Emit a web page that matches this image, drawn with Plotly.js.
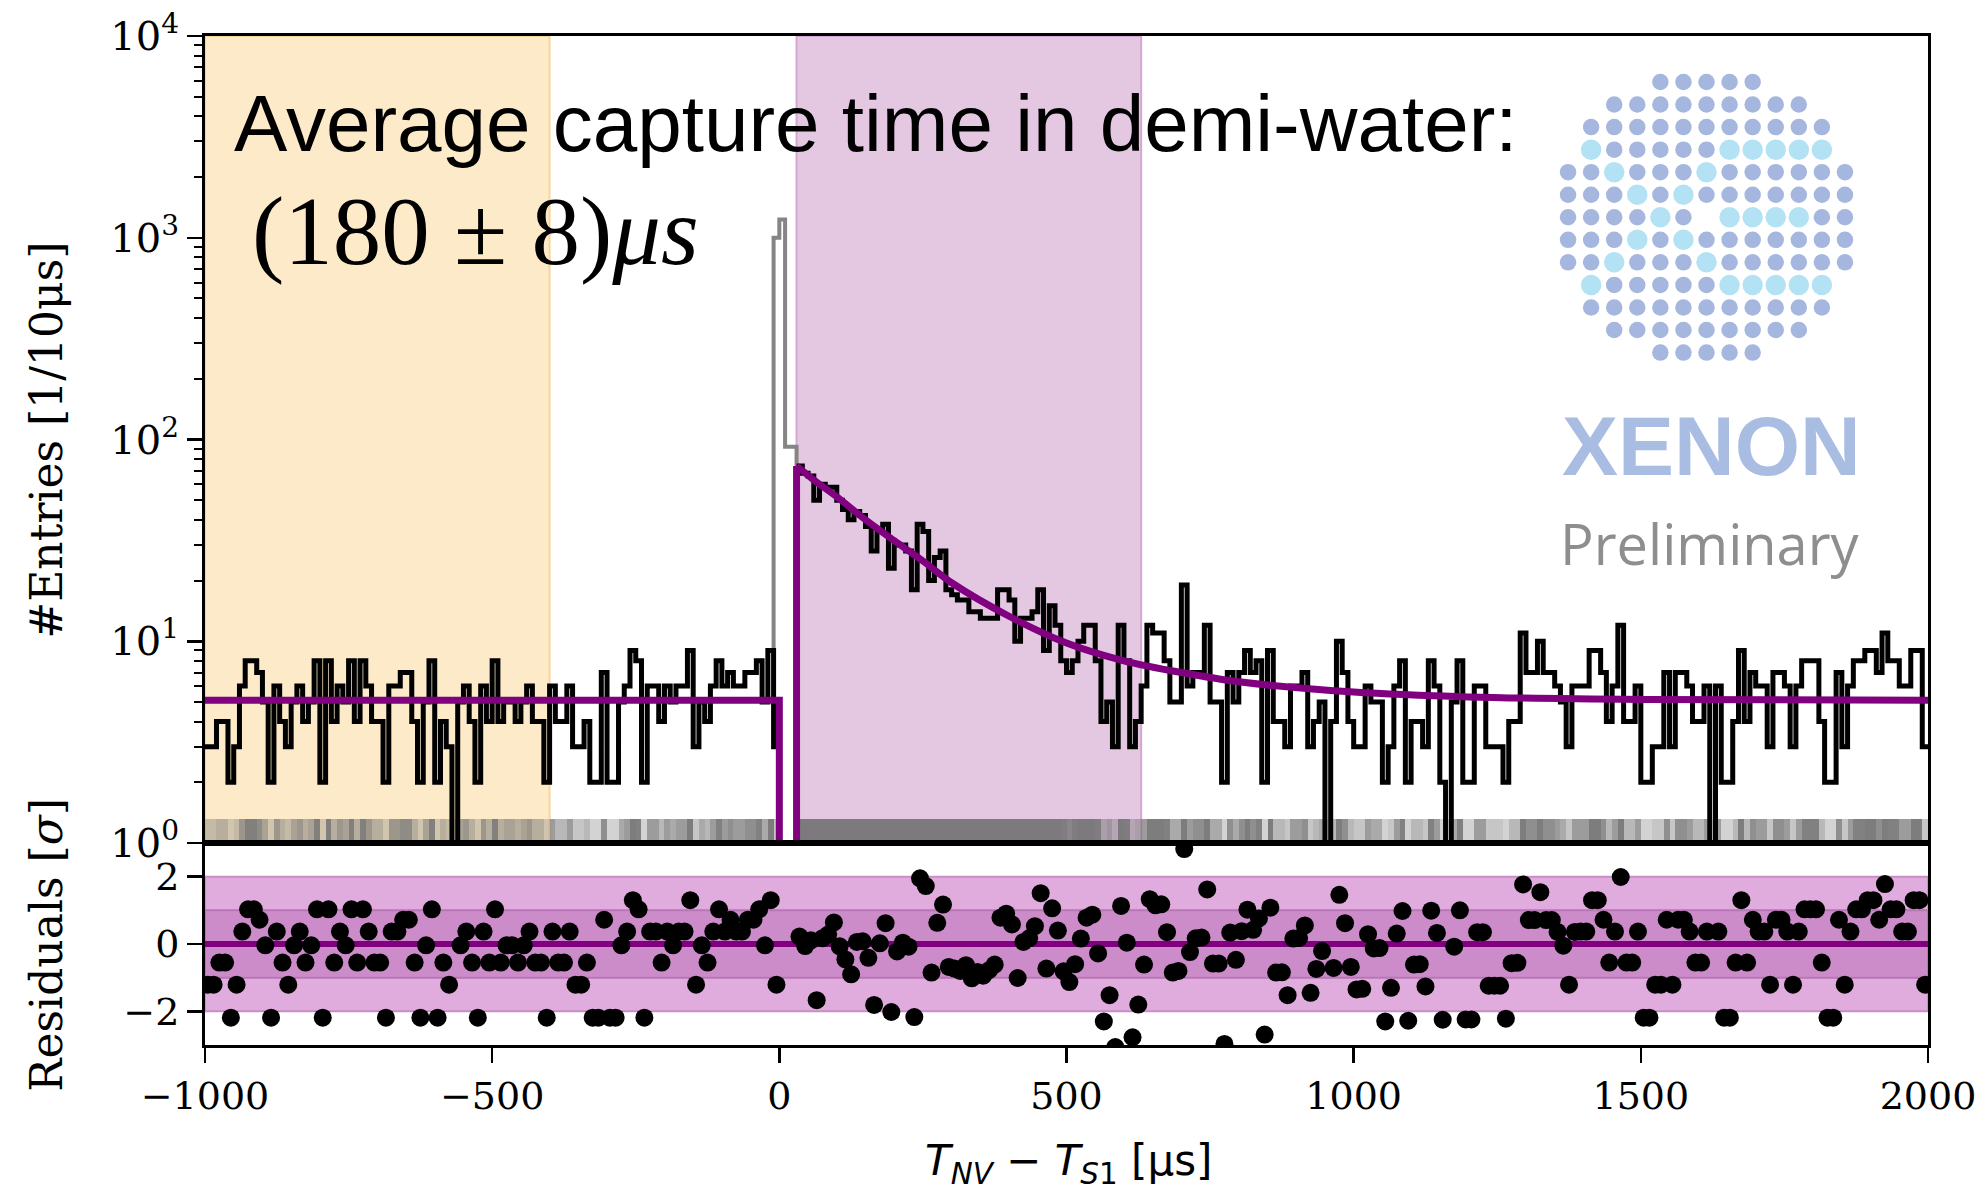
<!DOCTYPE html>
<html><head><meta charset="utf-8">
<script src="https://cdn.plot.ly/plotly-3.0.1.min.js"></script>
<style>html,body{margin:0;padding:0;background:#fff}#chart{width:1988px;height:1194px}</style>
</head><body><div id="chart"></div>
<script>
// ---------------- data ----------------
const binWidth = 10;                       // µs per bin
const leftStart = -1000;                   // first bin of the pre-trigger part
const leftCounts = [
 3,3,4,4,2,3,6,8,8,7, 5,2,6,4,3,5,6,4,5,8, 2,8,4,6,5,8,4,8,6,4, 4,2,6,6,7,7,4,2,5,8,
 2,4,3,1,5,6,4,2,6,4, 8,4,5,5,4,5,6,4,4,2, 6,4,4,6,3,3,4,2,2,7, 2,2,5,6,9,8,2,6,6,4,
 6,5,6,6,9,3,5,4,6,8, 6,7,6,6,7,7,8,5,9,3];
const rightStart = 30;                     // first bin after the excluded window
const rightCounts = [
 74,68,66,50,60,58,58,50,45,40,44,42,37,28,36,
 38,23,30,30,28,18,38,35,20,26, 28,18,17,16,16,14,14,13,13,13,
 18,18,16,10,13,13,14,18,9,15, 12,8,7,8,10,12,12,8,4,5,
 3,12,8,3,4,6,12,11,11,8, 5,5,19,6,7,7,12,5,5,2,
 7,5,7,9,7,8,2,9,4,4, 3,6,6,7,3,4,5,1,4,10,
 7,4,3,3,6,5,5,2,3,6, 8,2,4,4,3,8,6,2,1,5,
 8,2,2,6,6,3,3,3,2,4, 4,11,7,7,10,7,7,6,5,3,6,
 6,6,9,9,7,4,6,12,4,4, 6,2,2,3,3,7,3,7,7,6,
 4,4,6,1,6,2,2,4,9,4, 7,6,6,3,7,7,6,3,6,8,
 8,8,4,2,2,7,3,6,8,8, 9,9,7,11,8,8,6,6,9,9,3];
const excludedStart = -20;                 // full-data histogram around the prompt peak (grey)
const excludedCounts = [9,1000,1230,92,92,74];

const fitBackground = 5.1;                 // flat part of the fit
const fitCutLow = 0, fitCutHigh = 30;      // fit switched off in [0,30] µs
const fitCurveX = [30,60,100,150,200,250,300,400,500,600,700,800,1000,1200,1500,2000];
const fitCurveY = [74,63,52,40,31.5,25,19.5,13.3,9.8,8.0,7.0,6.3,5.6,5.3,5.15,5.1];

const residLeft = [
 -1.21,-1.21,-0.55,-0.55,-2.19,-1.21,0.37,1.03,1.03,0.72,
 -0.04,-2.19,0.37,-0.55,-1.21,-0.04,0.37,-0.55,-0.04,1.03,
 -2.19,1.03,-0.55,0.37,-0.04,1.03,-0.55,1.03,0.37,-0.55,
 -0.55,-2.19,0.37,0.37,0.72,0.72,-0.55,-2.19,-0.04,1.03,
 -2.19,-0.55,-1.21,-4.1,-0.04,0.37,-0.55,-2.19,0.37,-0.55,
 1.03,-0.55,-0.04,-0.04,-0.55,-0.04,0.37,-0.55,-0.55,-2.19,
 0.37,-0.55,-0.55,0.37,-1.21,-1.21,-0.55,-2.19,-2.19,0.72,
 -2.19,-2.19,-0.04,0.37,1.3,1.03,-2.19,0.37,0.37,-0.55,
 0.37,-0.04,0.37,0.37,1.3,-1.21,-0.04,-0.55,0.37,1.03,
 0.37,0.72,0.37,0.37,0.72,0.72,1.03,-0.04,1.3,-1.21];
const residRight = [
 0.22,-0.06,0.11,-1.67,0.17,0.28,0.64,-0.07,-0.46,-0.9,0.06,0.08,-0.41,-1.81,0.02,
 0.62,-2.02,-0.22,0.04,-0.08,-2.17,1.95,1.72,-0.85,0.63,
 1.17,-0.68,-0.73,-0.8,-0.63,-1.02,-0.83,-0.94,-0.78,-0.61,
 0.78,0.9,0.58,-1.01,0.06,0.17,0.53,1.51,-0.73,1.06,
 0.4,-0.81,-1.13,-0.6,0.16,0.78,0.87,-0.28,-2.3,-1.52,
 -3.06,1.13,0.04,-2.77,-1.8,-0.61,1.33,1.15,1.18,0.35,
 -0.85,-0.8,2.82,-0.24,0.17,0.19,1.62,-0.58,-0.58,-2.97,
 0.34,-0.47,0.38,1.02,0.42,0.76,-2.69,1.08,-0.85,-0.84,
 -1.52,0.16,0.18,0.55,-1.45,-0.74,-0.21,-4.4,-0.71,1.46,
 0.62,-0.68,-1.35,-1.33,0.29,-0.13,-0.12,-2.3,-1.3,0.31,
 0.98,-2.28,-0.61,-0.6,-1.26,0.99,0.33,-2.25,-4.2,-0.08,
 1.0,-2.24,-2.24,0.35,0.35,-1.24,-1.24,-1.24,-2.22,-0.57,
 -0.56,1.77,0.71,0.71,1.54,0.71,0.71,0.36,-0.05,-1.21,0.36,
 0.37,0.37,1.3,1.3,0.72,-0.55,0.37,1.99,-0.55,-0.55,
 0.37,-2.19,-2.19,-1.21,-1.21,0.72,-1.21,0.72,0.72,0.37,
 -0.55,-0.55,0.37,-4.1,0.37,-2.19,-2.19,-0.55,1.3,-0.55,
 0.72,0.37,0.37,-1.21,0.72,0.72,0.37,-1.21,0.37,1.03,
 1.03,1.03,-0.55,-2.19,-2.19,0.72,-1.21,0.37,1.03,1.03,
 1.3,1.3,0.72,1.78,1.03,1.03,0.37,0.37,1.3,1.3,-1.21];

const sideband = [-1000, -400];
const signalWindow = [30, 630];
const sigmaBands = [2, 1];
const xTicks = [-1000,-500,0,500,1000,1500,2000];
const xTickText = ['−1000','−500','0','500','1000','1500','2000'];
const yTicks = [1,10,100,1000,10000];
const yTickText = ['10<sup>0</sup>','10<sup>1</sup>','10<sup>2</sup>','10<sup>3</sup>','10<sup>4</sup>'];
const residTicks = [-2,0,2];
const residTickText = ['−2','0','2'];
const rugTop = 1.32;   // top of the event strip on the log axis

// XENON logo pattern: o = dark dot, L = light dot, space = none
const logoRows = [
 '    ooooo    ',
 '  ooooooooo  ',
 ' ooooooooooo ',
 ' LoooooLLLLL ',
 'ooLoooLoooooo',
 'oooLoLooooooo',
 'ooooLo LLLLoo',
 'oooLoLooooooo',
 'ooLoooLoooooo',
 ' LoooooLLLLL ',
 ' ooooooooooo ',
 '  ooooooooo  ',
 '    ooooo    '];

// ---------------- build traces ----------------
function stepXY(start, counts){
  const x=[], y=[];
  counts.forEach((c,i)=>{ x.push(start+i*binWidth); y.push(c); });
  x.push(start+counts.length*binWidth); y.push(counts[counts.length-1]);
  return {x,y};
}
function centers(start, n){ const a=[]; for(let i=0;i<n;i++) a.push(start+(i+0.5)*binWidth); return a; }

const L = stepXY(leftStart, leftCounts);
const R = stepXY(rightStart, rightCounts);
const G = stepXY(excludedStart, excludedCounts);

const rugX = centers(leftStart, leftCounts.length).concat(centers(rightStart, rightCounts.length));
const rugC = leftCounts.concat(rightCounts);
const rugColors = rugC.map(c => 'rgba(118,118,118,' + Math.min(0.95, 0.12 + 0.1*c).toFixed(2) + ')');

const traces = [];
traces.push({type:'bar', x:rugX, y:rugX.map(()=>rugTop-1), base:1, width:binWidth,
  marker:{color:rugColors, line:{width:0}}, xaxis:'x', yaxis:'y', hoverinfo:'skip'});
traces.push({type:'scatter', mode:'lines', x:G.x, y:G.y, line:{shape:'hv', color:'#858585', width:4}, xaxis:'x', yaxis:'y'});
traces.push({type:'scatter', mode:'lines', x:L.x, y:L.y, line:{shape:'hv', color:'#000', width:5}, xaxis:'x', yaxis:'y'});
traces.push({type:'scatter', mode:'lines', x:R.x, y:R.y, line:{shape:'hv', color:'#000', width:5}, xaxis:'x', yaxis:'y'});
// fit: flat part with cut, then rise and exponential decay
traces.push({type:'scatter', mode:'lines',
  x:[leftStart, fitCutLow, fitCutLow, null, fitCutHigh, fitCutHigh],
  y:[fitBackground, fitBackground, 0.3, null, 0.3, fitCurveY[0]],
  line:{color:'#800080', width:7}, xaxis:'x', yaxis:'y'});
traces.push({type:'scatter', mode:'lines', x:fitCurveX, y:fitCurveY,
  line:{color:'#800080', width:7, shape:'spline', smoothing:0.8}, xaxis:'x', yaxis:'y'});
// residuals
traces.push({type:'scatter', mode:'markers',
  x:centers(leftStart, residLeft.length).concat(centers(rightStart, residRight.length)),
  y:residLeft.concat(residRight),
  marker:{color:'#000', size:18}, xaxis:'x2', yaxis:'y2'});
// logo dots
const ldx=[], ldy=[], llx=[], lly=[];
logoRows.forEach((row,r)=>{ for(let c=0;c<row.length;c++){
  if(row[c]==='o'){ ldx.push(c); ldy.push(r+1); }
  else if(row[c]==='L'){ llx.push(c); lly.push(r+1); } } });
traces.push({type:'scatter', mode:'markers', x:ldx, y:ldy, marker:{color:'#a5b7de', size:16.5}, xaxis:'x3', yaxis:'y3'});
traces.push({type:'scatter', mode:'markers', x:llx, y:lly, marker:{color:'#b4e2f5', size:20.5}, xaxis:'x3', yaxis:'y3'});

// minor tick positions for the log axis
const minorVals=[]; for(let d=1; d<10000; d*=10){ for(let m=2;m<=9;m++) minorVals.push(m*d); }

const serif = 'DejaVu Serif';
const axisCommon = {showline:true, mirror:true, linecolor:'#000', linewidth:3, showgrid:false, zeroline:false};

const shapes = [
  {type:'rect', xref:'x', yref:'y domain', x0:sideband[0], x1:sideband[1], y0:0, y1:1,
   fillcolor:'#fdeac8', line:{color:'#f8d59e', width:2}, layer:'below'},
  {type:'rect', xref:'x', yref:'y domain', x0:signalWindow[0], x1:signalWindow[1], y0:0, y1:1,
   fillcolor:'#e4c8e2', line:{color:'#d6a6d3', width:2}, layer:'below'},
  {type:'rect', xref:'x2 domain', yref:'y2', x0:0, x1:1, y0:-sigmaBands[0], y1:sigmaBands[0],
   fillcolor:'#e0acdd', line:{color:'#c98ec6', width:2}, layer:'below'},
  {type:'rect', xref:'x2 domain', yref:'y2', x0:0, x1:1, y0:-sigmaBands[1], y1:sigmaBands[1],
   fillcolor:'#cc8cc9', line:{color:'#b976b6', width:2}, layer:'below'},
  {type:'line', xref:'x2 domain', yref:'y2', x0:0, x1:1, y0:0, y1:0,
   line:{color:'#800080', width:6}, layer:'below'}
];

const annotations = [
  {text:'Average capture time in demi-water:', xref:'paper', yref:'paper', x:0.0157, y:0.9128,
   xanchor:'left', yanchor:'middle', showarrow:false, font:{family:'Liberation Sans', size:80, color:'#000'}},
  {text:'(180 ± 8)<i>μs</i>', xref:'paper', yref:'paper', x:0.0262, y:0.8067,
   xanchor:'left', yanchor:'middle', showarrow:false, font:{family:'Liberation Serif', size:97, color:'#000'}},
  {text:'<b>XENON</b>', xref:'paper', yref:'paper', x:0.8745, y:0.5937, xanchor:'center', yanchor:'middle',
   showarrow:false, font:{family:'Liberation Sans', size:84, color:'#a9bde3'}},
  {text:'Preliminary', xref:'paper', yref:'paper', x:0.8735, y:0.4975, xanchor:'center', yanchor:'middle',
   showarrow:false, font:{family:'Open Sans', size:56, color:'#8e8e8e'}},
  {text:'#Entries [1/10μs]', xref:'paper', yref:'paper', x:-0.0925, y:0.5996, xanchor:'center', yanchor:'middle',
   textangle:-90, showarrow:false, font:{family:serif, size:44, color:'#000'}},
  {text:'Residuals [<i>σ</i>]', xref:'paper', yref:'paper', x:-0.0925, y:0.0991, xanchor:'center', yanchor:'middle',
   textangle:-90, showarrow:false, font:{family:serif, size:44, color:'#000'}},
  {text:'<i>T</i><sub><i>NV</i></sub> − <i>T</i><sub><i>S</i>1</sub> [μs]', xref:'paper', yref:'paper',
   x:0.5014, y:-0.117, xanchor:'center', yanchor:'middle', showarrow:false,
   font:{family:'DejaVu Sans', size:42, color:'#000'}}
];

const layout = {
  width:1988, height:1194,
  margin:{l:205, r:60, t:36, b:149},
  paper_bgcolor:'#ffffff', plot_bgcolor:'rgba(0,0,0,0)',
  showlegend:false, bargap:0,
  xaxis:Object.assign({}, axisCommon, {domain:[0,1], range:[-1000,2000], anchor:'y', showticklabels:false, ticks:''}),
  yaxis:Object.assign({}, axisCommon, {domain:[0.2002,1], type:'log', range:[0,4], anchor:'x',
     tickvals:yTicks, ticktext:yTickText, ticks:'outside', ticklen:15, tickwidth:2.5, tickcolor:'#000',
     tickfont:{family:serif, size:40, color:'#000'},
     minor:{tickvals:minorVals, ticks:'outside', ticklen:8, tickwidth:2, tickcolor:'#000', showgrid:false}}),
  xaxis2:Object.assign({}, axisCommon, {domain:[0,1], range:[-1000,2000], anchor:'y2',
     tickvals:xTicks, ticktext:xTickText, ticks:'outside', ticklen:15, tickwidth:2.5, tickcolor:'#000',
     tickfont:{family:serif, size:38, color:'#000'}}),
  yaxis2:Object.assign({}, axisCommon, {domain:[0,0.2002], range:[-3,3], anchor:'x2',
     tickvals:residTicks, ticktext:residTickText, ticks:'outside', ticklen:15, tickwidth:2.5, tickcolor:'#000',
     tickfont:{family:serif, size:38, color:'#000'}}),
  xaxis3:{domain:[0.7844,0.9585], range:[-0.5,12.5], anchor:'y3', visible:false, fixedrange:true},
  yaxis3:{domain:[0.6751,0.9656], range:[13.5,0.5], anchor:'x3', visible:false, fixedrange:true},
  shapes:shapes, annotations:annotations
};

Plotly.newPlot('chart', traces, layout, {displayModeBar:false, staticPlot:true});
</script></body></html>
